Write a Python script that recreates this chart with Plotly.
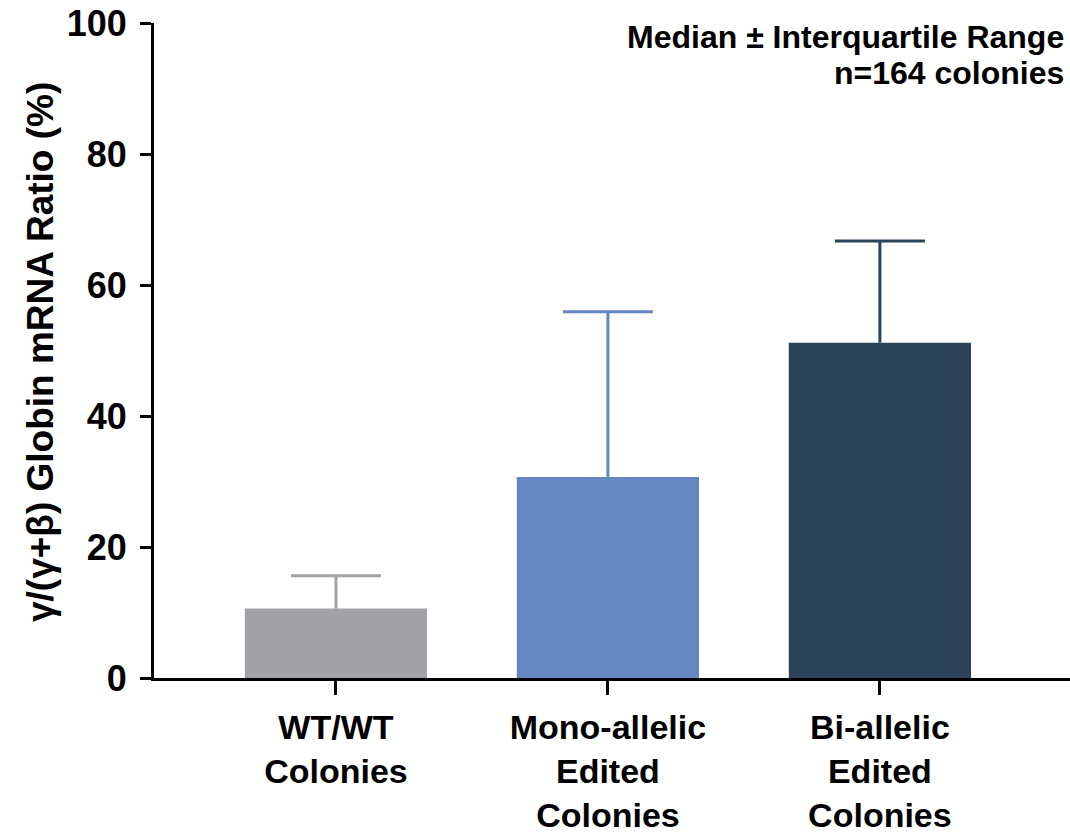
import plotly.graph_objects as go

# Colony groups and their gamma-globin ratio summaries (median and upper quartile, %)
categories = ["WT/WT<br>Colonies", "Mono-allelic<br>Edited<br>Colonies", "Bi-allelic<br>Edited<br>Colonies"]
medians = [10.6, 30.7, 51.2]
upper_quartiles = [15.6, 55.9, 66.7]
colors = ["#A2A1A6", "#6587C0", "#2C4259"]

y_ticks = [0, 20, 40, 60, 80, 100]

FONT = "Liberation Sans, Arial, sans-serif"
PX_PER_UNIT = 272  # horizontal pixels per category step

fig = go.Figure()
# Median bars
for i, (med, col) in enumerate(zip(medians, colors)):
    fig.add_trace(go.Bar(
        x=[i], y=[med], width=0.67,
        marker=dict(color=col, line=dict(width=0)),
        showlegend=False, hoverinfo="y",
    ))
# Upper whiskers: thin bar from median to upper quartile, capped with a zero-length error bar
for i, (med, q3, col) in enumerate(zip(medians, upper_quartiles, colors)):
    fig.add_trace(go.Bar(
        x=[i], y=[q3 - med], base=[med], width=3 / PX_PER_UNIT,
        marker=dict(color=col, line=dict(width=0)),
        error_y=dict(type="data", symmetric=False, array=[0], arrayminus=[0],
                     color=col, thickness=3, width=45),
        showlegend=False, hoverinfo="skip",
    ))

fig.update_layout(
    width=1070, height=835,
    margin=dict(l=154, r=0, t=23, b=157),
    paper_bgcolor="white", plot_bgcolor="white",
    barmode="overlay",
    font=dict(family=FONT, color="black"),
    xaxis=dict(
        range=[-0.669, 2.699],
        tickmode="array", tickvals=list(range(len(categories))), ticktext=categories,
        ticks="outside", ticklen=14, tickwidth=3, tickcolor="black",
        showline=True, linecolor="black", linewidth=3,
        showgrid=False, zeroline=False, automargin=False,
        tickfont=dict(family=FONT, size=34, color="black", weight="bold"),
        ticklabelstandoff=3,
    ),
    yaxis=dict(
        range=[0, 100],
        tickmode="array", tickvals=y_ticks, ticktext=[str(t) for t in y_ticks],
        ticks="outside", ticklen=11, tickwidth=3, tickcolor="black",
        showline=True, linecolor="black", linewidth=3,
        showgrid=False, zeroline=False, automargin=False,
        tickfont=dict(family=FONT, size=36, color="black", weight="bold"),
        ticklabelstandoff=6,
    ),
)

# Rotated y-axis title
fig.add_annotation(
    text="γ/(γ+β) Globin mRNA Ratio (%)",
    xref="paper", yref="paper", x=(40 - 154) / 916, y=(678 - 352) / 655,
    textangle=-90, showarrow=False,
    xanchor="center", yanchor="middle",
    font=dict(family=FONT, size=37, color="black", weight="bold"),
)

# Summary statistic note, top right
fig.add_annotation(
    text="Median ± Interquartile Range",
    xref="paper", yref="paper", x=(1066 - 154) / 916, y=(678 - 37) / 655,
    showarrow=False, xanchor="right", yanchor="middle",
    font=dict(family=FONT, size=32, color="black", weight="bold"),
)
fig.add_annotation(
    text="n=164 colonies",
    xref="paper", yref="paper", x=(1066 - 154) / 916, y=(678 - 73) / 655,
    showarrow=False, xanchor="right", yanchor="middle",
    font=dict(family=FONT, size=32, color="black", weight="bold"),
)

fig.write_html("out.html")
